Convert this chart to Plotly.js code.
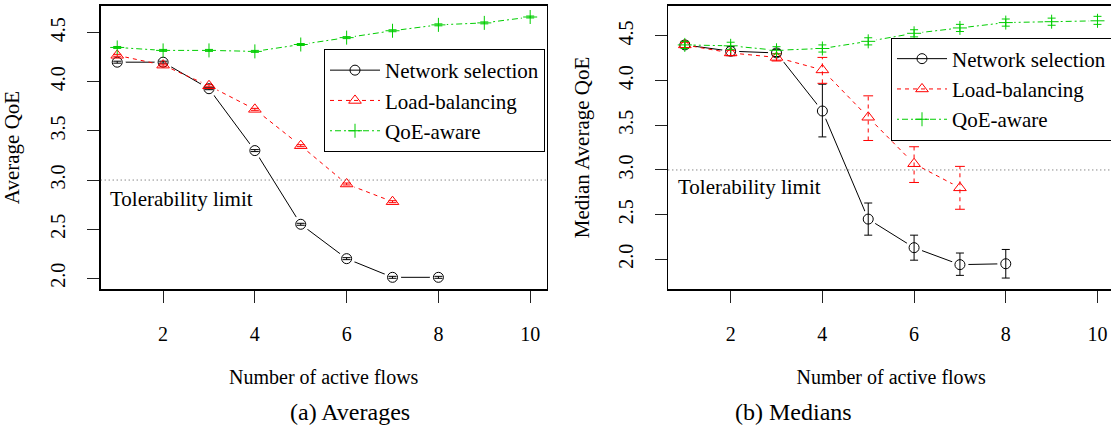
<!DOCTYPE html>
<html>
<head>
<meta charset="utf-8">
<script src="https://cdn.plot.ly/plotly-3.0.1.min.js"></script>
<style>
html,body{margin:0;padding:0;overflow:hidden;background:#fff;}
#chart{width:1120px;height:428px;}
</style>
</head>
<body>
<div id="chart"></div>
<script>
// ---------- data ----------
const flows = [1, 2, 3, 4, 5, 6, 7, 8, 9, 10];
const xTicks = [2, 4, 6, 8, 10];
const yTicks = [2.0, 2.5, 3.0, 3.5, 4.0, 4.5];
const tolerability = 3.0;
const tolLabel = 'Tolerability limit';
const tolLabelPos = [2.4, 2.81];
const seriesNames = ['Network selection', 'Load-balancing', 'QoE-aware'];

// (a) Averages
const nsAvg  = [4.20, 4.20, 3.93, 3.30, 2.55, 2.20, 2.01, 2.01];
const nsAvgErr = [0.01, 0.01, 0.01, 0.01, 0.01, 0.01, 0.01, 0.01];
const lbAvg  = [4.27, 4.17, 3.96, 3.72, 3.35, 2.96, 2.78];
const lbAvgErr = [0.01, 0.01, 0.01, 0.01, 0.01, 0.01, 0.01];
const qoeAvg = [4.35, 4.32, 4.32, 4.31, 4.38, 4.45, 4.52, 4.58, 4.60, 4.66];
const qoeAvgErr = [0.01, 0.01, 0.01, 0.01, 0.01, 0.01, 0.01, 0.01, 0.01, 0.01];

// (b) Medians with confidence intervals
const nsMed = [4.40, 4.33, 4.31, 3.66, 2.45, 2.13, 1.94, 1.95];
const nsLo  = [4.36, 4.28, 4.27, 3.37, 2.27, 1.99, 1.82, 1.79];
const nsHi  = [4.44, 4.38, 4.35, 3.96, 2.63, 2.27, 2.07, 2.11];
const lbMed = [4.40, 4.31, 4.26, 4.12, 3.59, 3.07, 2.80];
const lbLo  = [4.37, 4.28, 4.22, 3.97, 3.33, 2.86, 2.56];
const lbHi  = [4.43, 4.34, 4.30, 4.26, 3.83, 3.26, 3.04];
const qoeMed = [4.40, 4.39, 4.34, 4.36, 4.44, 4.53, 4.59, 4.65, 4.66, 4.67];
const qoeLo  = [4.36, 4.35, 4.30, 4.32, 4.40, 4.49, 4.55, 4.61, 4.62, 4.63];
const qoeHi  = [4.44, 4.43, 4.38, 4.40, 4.48, 4.57, 4.63, 4.69, 4.70, 4.72];

const captions = ['(a) Averages', '(b) Medians'];
const xTitle = 'Number of active flows';
const yTitles = ['Average QoE', 'Median Average QoE'];

// ---------- styles ----------
const FONT = 'Liberation Serif';
const BLACK = '#000000', RED = '#ff0000', GREEN = '#00cd00';
const styles = [
  {color: BLACK, dash: 'solid', symbol: 'circle-open', size: 10},
  {color: RED, dash: '4px,4px', symbol: 'triangle-up-open', size: 11},
  {color: GREEN, dash: '2px,3px,6px,3px', symbol: 'cross-thin-open', size: 10}
];

function sub(arr, n) { return arr.slice(0, n); }

const traces = [];
function addPanel(xa, ya, legendId, ys, errs) {
  const lineTraces = [], haloTraces = [], markTraces = [];
  ys.forEach((y, k) => {
    const st = styles[k];
    const x = sub(flows, y.length);
    lineTraces.push({
      type: 'scatter', mode: 'lines+markers', x: x, y: y, xaxis: xa, yaxis: ya,
      name: seriesNames[k], legend: legendId, showlegend: true, hoverinfo: 'skip',
      line: {color: st.color, width: 1, dash: st.dash},
      marker: {symbol: st.symbol, size: st.size, color: st.color, line: {color: st.color, width: 1}}
    });
    haloTraces.push({
      type: 'scatter', mode: 'markers', x: x, y: y, xaxis: xa, yaxis: ya,
      showlegend: false, hoverinfo: 'skip',
      marker: {symbol: 'circle', size: 17, color: '#ffffff', line: {width: 0}}
    });
    const e = errs[k];
    const m = {
      type: 'scatter', mode: 'markers', x: x, y: y, xaxis: xa, yaxis: ya,
      showlegend: false, hoverinfo: 'skip',
      marker: {symbol: st.symbol, size: st.size, color: st.color, line: {color: st.color, width: 1}}
    };
    if (e.dashed) {
      const bx = [], by = [], cx = [], cy = [];
      for (let i = 0; i < x.length; i++) {
        bx.push(x[i], x[i], null); by.push(e.lo[i], e.hi[i], null);
        cx.push(x[i], x[i]); cy.push(e.lo[i], e.hi[i]);
      }
      markTraces.push({
        type: 'scatter', mode: 'lines', x: bx, y: by, xaxis: xa, yaxis: ya,
        showlegend: false, hoverinfo: 'skip', connectgaps: false,
        line: {color: st.color, width: 1, dash: '4px,4px'}
      });
      markTraces.push({
        type: 'scatter', mode: 'markers', x: cx, y: cy, xaxis: xa, yaxis: ya,
        showlegend: false, hoverinfo: 'skip',
        marker: {symbol: 'line-ew-open', size: 7, color: st.color, line: {color: st.color, width: 1}}
      });
    } else {
      m.error_y = {
        type: 'data', symmetric: false,
        array: e.hi.map((h, i) => h - y[i]),
        arrayminus: e.lo.map((l, i) => y[i] - l),
        color: st.color, thickness: 1, width: 4
      };
    }
    markTraces.push(m);
  });
  traces.push(...lineTraces, ...haloTraces, ...markTraces);
}

function symErr(y, d) {
  return {lo: y.map((v, i) => v - d[i]), hi: y.map((v, i) => v + d[i])};
}

addPanel('x', 'y', 'legend', [nsAvg, lbAvg, qoeAvg],
  [symErr(nsAvg, nsAvgErr), symErr(lbAvg, lbAvgErr), symErr(qoeAvg, qoeAvgErr)]);
addPanel('x2', 'y2', 'legend2', [nsMed, lbMed, qoeMed],
  [{lo: nsLo, hi: nsHi}, {lo: lbLo, hi: lbHi, dashed: true}, {lo: qoeLo, hi: qoeHi}]);

// ---------- layout ----------
const W = 1120, H = 428;
const yDom = [(H - 289.3) / H, (H - 5.7) / H];

function xAxis(domain, anchor) {
  return {
    domain: domain, anchor: anchor, range: [0.64, 10.36],
    tickvals: xTicks, ticktext: xTicks.map(String),
    ticks: 'outside', ticklen: 12, tickwidth: 1, tickcolor: '#222',
    ticklabelstandoff: 14,
    showline: true, mirror: true, linecolor: '#000', linewidth: 1.4,
    showgrid: false, zeroline: false,
    tickfont: {family: FONT, size: 20, color: '#000'},
    title: {text: xTitle, font: {family: FONT, size: 20, color: '#000'}, standoff: 26}
  };
}
function yAxis(domain, anchor, range, title, standoff) {
  return {
    domain: domain, anchor: anchor, range: range,
    tickvals: yTicks, ticktext: yTicks.map(v => v.toFixed(1)),
    tickangle: -90,
    ticks: 'outside', ticklen: 12, tickwidth: 1, tickcolor: '#222',
    ticklabelstandoff: 14,
    showline: true, mirror: true, linecolor: '#000', linewidth: 1.4,
    showgrid: false, zeroline: false,
    tickfont: {family: FONT, size: 20, color: '#000'},
    title: {text: title, font: {family: FONT, size: 21, color: '#000'}, standoff: standoff}
  };
}

const legendBase = {
  xanchor: 'left', yanchor: 'top', bgcolor: '#ffffff',
  bordercolor: '#000', borderwidth: 1, itemwidth: 50,
  font: {family: FONT, size: 21, color: '#000'},
  traceorder: 'normal', tracegroupgap: 0
};

const layout = {
  width: W, height: H,
  margin: {l: 0, r: 0, t: 0, b: 0},
  paper_bgcolor: '#fff', plot_bgcolor: '#fff',
  font: {family: FONT, color: '#000'},
  showlegend: true,
  xaxis: xAxis([100.7 / W, 546.7 / W], 'y'),
  yaxis: yAxis(yDom, 'x', [1.888, 4.775], yTitles[0], 25),
  xaxis2: xAxis([668.3 / W, 1114 / W], 'y2'),
  yaxis2: yAxis(yDom, 'x2', [1.664, 4.839], yTitles[1], 19),
  legend: Object.assign({x: 324 / W, y: (H - 49) / H}, legendBase),
  legend2: Object.assign({x: 891 / W, y: (H - 37.5) / H}, legendBase),
  shapes: [
    {type: 'line', xref: 'x domain', yref: 'y', x0: 0, x1: 1, y0: tolerability, y1: tolerability,
     line: {color: '#555', width: 1, dash: '1px,3px'}, layer: 'above'},
    {type: 'line', xref: 'x2 domain', yref: 'y2', x0: 0, x1: 1, y0: tolerability, y1: tolerability,
     line: {color: '#555', width: 1, dash: '1px,3px'}, layer: 'above'}
  ],
  annotations: [
    {xref: 'x', yref: 'y', x: tolLabelPos[0], y: tolLabelPos[1], text: tolLabel, showarrow: false,
     font: {family: FONT, size: 21, color: '#000'}},
    {xref: 'x2', yref: 'y2', x: tolLabelPos[0], y: tolLabelPos[1], text: tolLabel, showarrow: false,
     font: {family: FONT, size: 21, color: '#000'}},
    {xref: 'paper', yref: 'paper', x: 288 / W, y: (H - 411.7) / H, yanchor: 'middle', text: captions[0],
     showarrow: false, font: {family: FONT, size: 24, color: '#000'}},
    {xref: 'paper', yref: 'paper', x: 854 / W, y: (H - 411.7) / H, yanchor: 'middle', text: captions[1],
     showarrow: false, font: {family: FONT, size: 24, color: '#000'}}
  ]
};

Plotly.newPlot('chart', traces, layout, {staticPlot: true, displayModeBar: false});
</script>
</body>
</html>
